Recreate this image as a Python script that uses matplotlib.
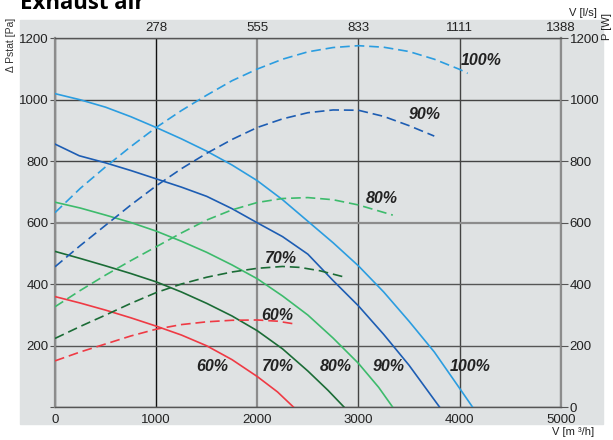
import matplotlib
matplotlib.use('Agg')
from matplotlib import pyplot as plt
from matplotlib.patches import Rectangle

# airflow [m3/h] and static pressure [Pa], solid curves
p100_x = [0, 250, 500, 750, 1000, 1250, 1500, 1750, 2000, 2250, 2500, 2750,
          3000, 3250, 3500, 3750, 4000, 4130]
p100_y = [1020, 1000, 976, 945, 910, 873, 833, 788, 737, 675, 605, 535,
          460, 375, 280, 180, 62, 0]
p90_x = [0, 240, 500, 750, 1000, 1250, 1500, 1750, 2000, 2250, 2500, 2750,
         3000, 3250, 3500, 3804]
p90_y = [856, 818, 795, 770, 743, 716, 686, 646, 600, 555, 498, 412,
         330, 237, 137, 0]
p80_x = [0, 250, 500, 750, 1000, 1250, 1500, 1750, 2000, 2250, 2500, 2750,
         3000, 3200, 3340]
p80_y = [667, 648, 625, 601, 573, 540, 504, 463, 418, 362, 300, 225,
         143, 65, 0]
p70_x = [0, 250, 500, 750, 1000, 1250, 1500, 1750, 2000, 2250, 2500, 2700, 2860]
p70_y = [507, 484, 460, 435, 408, 375, 338, 297, 249, 190, 118, 55, 0]
p60_x = [0, 250, 500, 750, 1000, 1250, 1500, 1750, 2000, 2200, 2360]
p60_y = [360, 339, 316, 291, 264, 235, 200, 155, 100, 50, 0]

# power [W], dashed curves
w100_x = [0, 250, 500, 750, 1000, 1250, 1500, 1750, 2000, 2250, 2500, 2750,
          3000, 3250, 3500, 3750, 4000, 4080]
w100_y = [633, 712, 782, 848, 910, 965, 1015, 1062, 1100, 1132, 1156, 1170,
          1176, 1171, 1157, 1132, 1099, 1086]
w90_x = [0, 250, 500, 750, 1000, 1250, 1500, 1750, 2000, 2250, 2500, 2750,
         3000, 3250, 3500, 3750]
w90_y = [457, 526, 592, 658, 720, 776, 826, 871, 910, 938, 958, 967,
         966, 946, 916, 882]
w80_x = [0, 250, 500, 750, 1000, 1250, 1500, 1750, 2000, 2250, 2500, 2750,
         3000, 3340]
w80_y = [327, 380, 430, 477, 522, 567, 609, 642, 666, 679, 682, 675, 658, 625]
w70_x = [0, 250, 500, 750, 1000, 1250, 1500, 1750, 2000, 2250, 2420, 2620, 2880]
w70_y = [224, 263, 300, 338, 373, 401, 423, 440, 452, 458, 455, 444, 422]
w60_x = [0, 250, 500, 750, 1000, 1250, 1500, 1750, 2000, 2200, 2370]
w60_y = [151, 180, 206, 232, 254, 269, 278, 283, 284, 280, 271]

x_ticks = [0, 1000, 2000, 3000, 4000, 5000]
ls_ticks = [1000, 2000, 3000, 4000, 5000]
ls_labels = ['278', '555', '833', '1111', '1388']
y_ticks = [0, 200, 400, 600, 800, 1000, 1200]

c100 = '#2b9de0'
c90 = '#1d5db3'
c80 = '#3dbb6c'
c70 = '#1b6c36'
c60 = '#ef3a44'
bg = '#dfe2e3'

plt.rcParams['font.family'] = ['Liberation Sans', 'DejaVu Sans']
plt.rcParams['lines.scale_dashes'] = False

fig = plt.figure(figsize=(6.13, 4.40), dpi=100)
fig.patches.append(Rectangle((20 / 613, 1 - 424 / 440), 583 / 613, 404 / 440,
                             transform=fig.transFigure, color=bg, zorder=-10))
ax = fig.add_axes([55 / 613, 1 - 407.3 / 440, 505.7 / 613, 369 / 440])
ax.set_facecolor(bg)
ax.set_xlim(0, 5000)
ax.set_ylim(0, 1200)

ax.set_xticks(x_ticks)
ax.set_yticks(y_ticks)
ax.set_yticklabels([''] + [str(v) for v in y_ticks[1:]])
ax.tick_params(axis='x', length=0, pad=5, labelsize=9.5, labelcolor='#222')
ax.tick_params(axis='y', length=3.5, pad=1, labelsize=9.5, labelcolor='#222',
               color='#555')
ax.grid(True, zorder=1)
vcol = ['#555', '#111', '#8c8c8c', '#444', '#444', '#8c8c8c']
vlw = [1.0, 1.0, 1.6, 1.0, 1.0, 1.6]
for g, c, w in zip(ax.xaxis.get_gridlines(), vcol, vlw):
    g.set_color(c)
    g.set_linewidth(w)
hcol = ['#555', '#555', '#555', '#8c8c8c', '#444', '#444', '#444']
hlw = [1.0, 1.0, 1.0, 1.6, 1.0, 1.0, 1.0]
for g, c, w in zip(ax.yaxis.get_gridlines(), hcol, hlw):
    g.set_color(c)
    g.set_linewidth(w)
ax.set_axisbelow(True)
for s in ['left', 'right']:
    ax.spines[s].set_color('#8c8c8c')
    ax.spines[s].set_linewidth(1.6)
for s in ['top', 'bottom']:
    ax.spines[s].set_color('#555')
    ax.spines[s].set_linewidth(1.0)

lw = 1.2
ax.plot(p100_x, p100_y, color=c100, lw=lw, zorder=3)
ax.plot(p90_x, p90_y, color=c90, lw=lw, zorder=3)
ax.plot(p80_x, p80_y, color=c80, lw=lw, zorder=3)
ax.plot(p70_x, p70_y, color=c70, lw=lw, zorder=3)
ax.plot(p60_x, p60_y, color=c60, lw=lw, zorder=3)

axr = ax.twinx()
axr.set_ylim(0, 1200)
axr.set_yticks(y_ticks)
axr.tick_params(axis='y', length=5, pad=1.5, labelsize=9.5, labelcolor='#222',
                color='#555')
for s in axr.spines.values():
    s.set_visible(False)
dash = (7, 3.5)
axr.plot(w100_x, w100_y, color=c100, lw=lw, dashes=dash)
axr.plot(w90_x, w90_y, color=c90, lw=lw, dashes=dash)
axr.plot(w80_x, w80_y, color=c80, lw=lw, dashes=dash)
axr.plot(w70_x, w70_y, color=c70, lw=lw, dashes=dash)
axr.plot(w60_x, w60_y, color=c60, lw=lw, dashes=dash)

axt = ax.twiny()
axt.set_xlim(0, 5000)
axt.set_xticks(ls_ticks)
axt.set_xticklabels(ls_labels)
axt.tick_params(axis='x', length=0, pad=3, labelsize=9.5, labelcolor='#222')
for s in axt.spines.values():
    s.set_visible(False)

lab = dict(fontsize=11.5, fontweight='bold', fontstyle='italic', color='#222',
           ha='center', va='center', zorder=5)
for txt, x in zip(['60%', '70%', '80%', '90%', '100%'], [1551, 2201, 2777, 3294, 4108]):
    axr.text(x, 132, txt, **lab)
axr.text(4216, 1127, '100%', **lab)
axr.text(3656, 951, '90%', **lab)
axr.text(3228, 680, '80%', **lab)
axr.text(2230, 485, '70%', **lab)
axr.text(2197, 300, '60%', **lab)

fig.text(20 / 613, 1 - 9 / 440, 'Exhaust air', fontsize=16, fontweight='bold',
         family='Open Sans', va='baseline', ha='left')
fig.text(11 / 613, 1 - 45 / 440, 'Δ Pstat [Pa]', rotation=90, fontsize=7.5,
         color='#333', ha='center', va='center')
fig.text(583 / 613, 1 - 13 / 440, 'V [l/s]', fontsize=8, color='#222',
         ha='center', va='center')
fig.text(607 / 613, 1 - 27 / 440, 'P [W]', rotation=90, fontsize=8,
         color='#222', ha='center', va='center')
fig.text(573 / 613, 1 - 432 / 440, 'V [m ³/h]', fontsize=8, color='#222',
         ha='center', va='center')

fig.savefig('out.png', dpi=100)
